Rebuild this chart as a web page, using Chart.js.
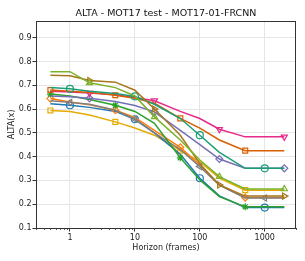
<!DOCTYPE html>
<html>
<head>
<meta charset="utf-8">
<script src="https://cdn.jsdelivr.net/npm/chart.js@4.4.1/dist/chart.umd.min.js"></script>
<style>
  body { margin: 0; background: #fff; }
  canvas { display: block; }
</style>
</head>
<body>
<canvas id="chart" width="305" height="261"></canvas>
<script>
// horizons (frames) on the x axis
const horizons = [0.5, 1, 2, 5, 10, 20, 50, 100, 200, 500, 1000, 2000];
const xTicks = [1, 10, 100, 1000];
const yTicks = [0.1, 0.2, 0.3, 0.4, 0.5, 0.6, 0.7, 0.8, 0.9];

// ALTA(x) per tracker
const olive  = [0.757, 0.757, 0.71, 0.69, 0.655, 0.567, 0.47, 0.386, 0.316, 0.264, 0.264, 0.264];
const brown  = [0.742, 0.740, 0.72, 0.713, 0.679, 0.60, 0.49, 0.37, 0.281, 0.234, 0.234, 0.234];
const teal   = [0.69, 0.685, 0.675, 0.665, 0.653, 0.62, 0.56, 0.49, 0.418, 0.351, 0.351, 0.351];
const dorange = [0.68, 0.675, 0.67, 0.658, 0.645, 0.625, 0.561, 0.52, 0.47, 0.425, 0.425, 0.425];
const pink   = [0.675, 0.672, 0.667, 0.66, 0.648, 0.635, 0.59, 0.56, 0.515, 0.483, 0.483, 0.483];
const purple = [0.655, 0.652, 0.645, 0.632, 0.615, 0.588, 0.51, 0.45, 0.39, 0.351, 0.351, 0.351];
const green  = [0.663, 0.655, 0.64, 0.616, 0.59, 0.54, 0.395, 0.302, 0.232, 0.189, 0.189, 0.189];
const gray   = [0.635, 0.628, 0.62, 0.595, 0.557, 0.50, 0.43, 0.358, 0.28, 0.226, 0.226, 0.226];
const orange = [0.644, 0.63, 0.618, 0.595, 0.565, 0.51, 0.439, 0.365, 0.281, 0.228, 0.228, 0.228];
const blue   = [0.622, 0.616, 0.607, 0.59, 0.557, 0.50, 0.41, 0.309, 0.235, 0.186, 0.186, 0.186];
const yellow = [0.594, 0.59, 0.575, 0.546, 0.52, 0.49, 0.425, 0.379, 0.31, 0.259, 0.259, 0.259];

// [values, colour, marker, rotation, marker offset, filled]
const series = [
    [olive,   '#7cb12a', 'triangle', 0,   2, false],
    [brown,   '#a6761d', 'triangle', 90,  2, false],
    [teal,    '#1b9e77', 'circle',   0,   1, false],
    [dorange, '#d95f02', 'rect',     0,   0, false],
    [pink,    '#e7298a', 'triangle', 180, 2, false],
    [purple,  '#7570b3', 'rectRot',  0,   2, false],
    [green,   '#2ca02c', 'star',     0,   0, true],
    [gray,    '#7f7f7f', 'triangle', -90, 1, false],
    [orange,  '#ff7f0e', 'rectRot',  0,   0, false],
    [blue,    '#1f77b4', 'circle',   0,   1, false],
    [yellow,  '#e6ab02', 'rect',     0,   0, false]
];

const datasets = series.map(([vals, color, style, rot, off, filled]) => ({
    data: vals.map((v, i) => ({ x: horizons[i], y: v })),
    borderColor: color,
    backgroundColor: color,
    borderWidth: 1.5,
    tension: 0,
    pointStyle: style,
    pointRotation: rot,
    pointBorderColor: color,
    pointBackgroundColor: filled ? color : 'rgba(255,255,255,0)',
    pointBorderWidth: 1.2,
    pointRadius: ctx => (ctx.dataIndex % 3 === off ? 3.5 : 0)
}));

const font = 'DejaVu Sans';

const framePlugin = {
    id: 'frame',
    afterDraw(chart) {
        const { ctx, chartArea: a, scales } = chart;
        ctx.save();
        // minor ticks on the log axis
        ctx.strokeStyle = '#333';
        ctx.lineWidth = 0.8;
        const xs = scales.x;
        for (let d = 0.1; d <= 1000; d *= 10) {
            for (let m = 2; m <= 9; m++) {
                const v = d * m;
                if (v < xs.min || v > xs.max) continue;
                const px = Math.round(xs.getPixelForValue(v)) + 0.5;
                ctx.beginPath();
                ctx.moveTo(px, a.bottom);
                ctx.lineTo(px, a.bottom + 2);
                ctx.stroke();
            }
        }
        // box around plot
        ctx.lineWidth = 1;
        ctx.strokeRect(Math.round(a.left) + 0.5, Math.round(a.top) + 0.5,
            Math.round(a.right - a.left) - 1, Math.round(a.bottom - a.top));
        // title over the plot area
        ctx.fillStyle = '#111';
        ctx.font = '9.5px "' + font + '"';
        ctx.textAlign = 'center';
        ctx.textBaseline = 'middle';
        ctx.fillText('ALTA - MOT17 test - MOT17-01-FRCNN', (a.left + a.right) / 2, 13.5);
        ctx.restore();
    }
};

new Chart(document.getElementById('chart'), {
    type: 'line',
    data: { datasets },
    plugins: [framePlugin],
    options: {
        responsive: false,
        animation: false,
        layout: { padding: { top: 21, right: 9, left: 0, bottom: 0 } },
        plugins: { legend: { display: false }, tooltip: { enabled: false } },
        scales: {
            x: {
                type: 'logarithmic',
                min: 0.33,
                max: 3027,
                afterBuildTicks: s => { s.ticks = xTicks.map(v => ({ value: v, major: true })); },
                afterFit: s => { s.height = 33; },
                ticks: {
                    callback: v => String(v),
                    color: '#222',
                    font: { family: font, size: 8 },
                    padding: 1.5,
                    maxRotation: 0,
                    autoSkip: false
                },
                grid: { color: '#e6e6e6', tickColor: '#333', tickLength: 3.5, lineWidth: 1 },
                border: { display: true, color: '#333' },
                title: {
                    display: true,
                    text: 'Horizon (frames)',
                    color: '#222',
                    font: { family: font, size: 8 },
                    padding: { top: 0, bottom: 8 }
                }
            },
            y: {
                type: 'linear',
                min: 0.1,
                max: 0.97,
                afterBuildTicks: s => { s.ticks = yTicks.map(v => ({ value: v })); },
                afterFit: s => { s.width = 36; },
                ticks: {
                    callback: v => v.toFixed(1),
                    color: '#222',
                    font: { family: font, size: 8 },
                    padding: 1
                },
                grid: { color: '#e6e6e6', tickColor: '#333', tickLength: 3.5, lineWidth: 1 },
                border: { display: true, color: '#333' },
                title: {
                    display: true,
                    text: 'ALTA(x)',
                    color: '#222',
                    font: { family: font, size: 8 },
                    padding: { top: 7, bottom: 0 }
                }
            }
        }
    }
});
</script>
</body>
</html>
